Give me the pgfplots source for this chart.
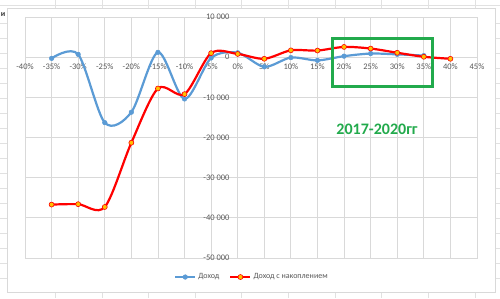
\documentclass[border=0pt]{standalone}
\usepackage{fontspec}
\setmainfont{Carlito}
\usepackage{pgfplots}
\pgfplotsset{compat=1.18}
\definecolor{gridgray}{HTML}{D9D9D9}
\definecolor{cellgray}{HTML}{E1E1E1}
\definecolor{labgray}{HTML}{595959}
\definecolor{xlblue}{HTML}{5B9BD5}
\definecolor{xlorange}{HTML}{FFC000}
\definecolor{xlgreen}{RGB}{34,170,76}
\begin{document}
\begin{tikzpicture}[x=1pt,y=1pt]
\useasboundingbox (0,0) rectangle (500,298);
\fill[white] (0,0) rectangle (500,298);
% spreadsheet cells around the chart
\foreach \cx in {55,102,148,195,241,288,335,381,428,475} {
  \draw[cellgray,line width=0.8pt] (\cx,298) -- (\cx,290);
  \draw[cellgray,line width=0.8pt] (\cx,0) -- (\cx,6);
}
\draw[cellgray,line width=0.8pt] (0,293) -- (500,293);
\foreach \cy in {275,260,245,230,215,200,185,170,155,140,125,110,95,80,65,50,35,20} {
  \draw[cellgray,line width=0.8pt] (0,\cy) -- (7,\cy);
  \draw[cellgray,line width=0.8pt] (495,\cy) -- (500,\cy);
}
\fill[white] (7,6) rectangle (495,290);
\draw[gridgray,line width=0.8pt] (7,6) rectangle (495,290);
\node[font=\bfseries\fontsize{8}{9}\selectfont, text=black!80] at (3,283) {и};
\begin{axis}[
  at={(25pt,40pt)}, anchor=south west,
  scale only axis, width=452pt, height=241pt,
  xmin=-40, xmax=45, ymin=-50000, ymax=10000,
  axis line style={draw=gridgray, line width=0.8pt},
  grid=major,
  major grid style={draw=gridgray, line width=0.8pt},
  xtick={-40,-35,-30,-25,-20,-15,-10,-5,0,5,10,15,20,25,30,35,40,45},
  xticklabels={-40\%,-35\%,-30\%,-25\%,-20\%,-15\%,-10\%,-5\%,0\%,5\%,10\%,15\%,20\%,25\%,30\%,35\%,40\%,45\%},
  ytick={-50000,-40000,-30000,-20000,-10000,0,10000},
  yticklabels={-50 000,-40 000,-30 000,-20 000,-10 000,0,10 000},
  scaled y ticks=false, scaled x ticks=false,
  major tick length=0pt,
  tick label style={font=\fontsize{8.5}{10}\selectfont, text=labgray},
  xticklabel style={yshift=198pt},
  yticklabel style={xshift=208pt},
  clip=false,
  legend columns=2,
  legend style={at={(0.502,-0.079)}, anchor=center, draw=none, fill=none,
    font=\fontsize{8}{9}\selectfont, text=labgray,
    /tikz/every even column/.append style={column sep=8pt}},
  legend image code/.code={\draw[mark repeat=2,mark phase=2,#1] plot coordinates {(0pt,0pt) (10pt,0pt) (20pt,0pt)};},
]
\addplot[xlblue, line width=2.2pt, smooth, mark=*, mark size=2.3pt, mark options={fill=xlblue, draw=xlblue, line width=0.5pt}]
coordinates {(-35,-300) (-30,700) (-25,-16300) (-20,-13700) (-15,1200) (-10,-10400) (-5,-200) (0,1100) (5,-2400) (10,-100) (15,-800) (20,250) (25,900) (30,700) (35,400)};
\addlegendentry{Доход}
\addplot[red, line width=2.2pt, smooth, mark=*, mark size=2.5pt, mark options={fill=xlorange, draw=red, line width=0.6pt}]
coordinates {(-35,-36700) (-30,-36600) (-25,-37300) (-20,-21300) (-15,-7800) (-10,-9200) (-5,1000) (0,800) (5,-400) (10,1700) (15,1650) (20,2550) (25,2150) (30,1100) (35,100) (40,-400)};
\addlegendentry{Доход с накоплением}
\draw[xlgreen, line width=3pt] (axis cs:17.9,4700) rectangle (axis cs:36.7,-7200);
\node[text=xlgreen, font=\bfseries\fontsize{16}{18}\selectfont] at (axis cs:26.2,-17900) {2017-2020гг};
\end{axis}
\end{tikzpicture}
\end{document}
